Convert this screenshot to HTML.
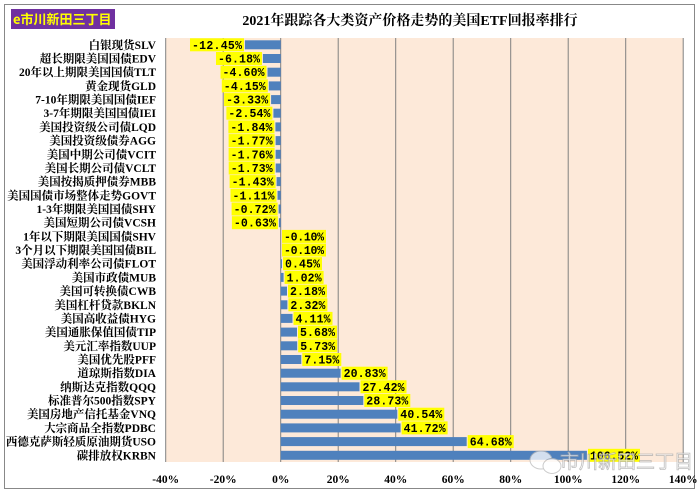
<!DOCTYPE html>
<html><head><meta charset="utf-8"><style>
html,body{margin:0;padding:0;background:#fff}
svg{display:block}
.c{font-family:"Liberation Serif","Noto Serif CJK SC",serif;font-size:11.5px;font-weight:bold;fill:#000}
.v{font-family:"Liberation Mono","Noto Sans CJK SC",monospace;font-size:11.5px;font-weight:bold;fill:#000}
.b{fill:#4f81bd}
.y{fill:#ffff00}
</style></head><body>
<svg width="699" height="493" viewBox="0 0 699 493" xmlns="http://www.w3.org/2000/svg">
<rect x="4.5" y="4.5" width="690" height="484" fill="#fff" stroke="#888" stroke-width="1"/>
<rect x="11" y="9" width="104" height="20" fill="#7030a0"/>
<text x="13" y="24" style="font-family:'Noto Sans CJK SC',sans-serif;font-size:13px;font-weight:bold;fill:#ffff00">e市川新田三丁目</text>
<text x="410" y="25" text-anchor="middle" style="font-family:'Liberation Serif','Noto Serif CJK SC',serif;font-size:14px;font-weight:bold;fill:#000">2021年跟踪各大类资产价格走势的美国ETF回报率排行</text>
<rect x="165.7" y="38" width="517.5" height="424" fill="#fde9d9"/>
<g stroke="#808080" stroke-width="1">
<line x1="165.7" y1="38" x2="165.7" y2="462"/><line x1="223.2" y1="38" x2="223.2" y2="462"/><line x1="280.7" y1="38" x2="280.7" y2="462"/><line x1="338.2" y1="38" x2="338.2" y2="462"/><line x1="395.7" y1="38" x2="395.7" y2="462"/><line x1="453.2" y1="38" x2="453.2" y2="462"/><line x1="510.7" y1="38" x2="510.7" y2="462"/><line x1="568.2" y1="38" x2="568.2" y2="462"/><line x1="625.7" y1="38" x2="625.7" y2="462"/><line x1="683.2" y1="38" x2="683.2" y2="462"/>
</g>
<g class="c" text-anchor="middle" style="font-size:11.5px">
<text x="165.7" y="483">-40%</text><text x="223.2" y="483">-20%</text><text x="280.7" y="483">0%</text><text x="338.2" y="483">20%</text><text x="395.7" y="483">40%</text><text x="453.2" y="483">60%</text><text x="510.7" y="483">80%</text><text x="568.2" y="483">100%</text><text x="625.7" y="483">120%</text><text x="683.2" y="483">140%</text>
</g>

<g transform="translate(0,44.8)"><text class="c" x="156" y="4" text-anchor="end">白银现货SLV</text><rect class="b" x="244.9" y="-4.5" width="35.8" height="9"/><rect class="y" x="190" y="-6.5" width="54" height="13"/><text class="v" x="192" y="4" textLength="50">-12.45%</text></g>
<g transform="translate(0,58.5)"><text class="c" x="156" y="4" text-anchor="end">超长期限美国国债EDV</text><rect class="b" x="262.9" y="-4.5" width="17.8" height="9"/><rect class="y" x="216" y="-6.5" width="46" height="13"/><text class="v" x="218" y="4" textLength="42">-6.18%</text></g>
<g transform="translate(0,72.2)"><text class="c" x="156" y="4" text-anchor="end">20年以上期限美国国债TLT</text><rect class="b" x="267.5" y="-4.5" width="13.2" height="9"/><rect class="y" x="220.5" y="-6.5" width="46" height="13"/><text class="v" x="222.5" y="4" textLength="42">-4.60%</text></g>
<g transform="translate(0,85.9)"><text class="c" x="156" y="4" text-anchor="end">黄金现货GLD</text><rect class="b" x="268.8" y="-4.5" width="11.9" height="9"/><rect class="y" x="221.8" y="-6.5" width="46" height="13"/><text class="v" x="223.8" y="4" textLength="42">-4.15%</text></g>
<g transform="translate(0,99.6)"><text class="c" x="156" y="4" text-anchor="end">7-10年期限美国国债IEF</text><rect class="b" x="271.1" y="-4.5" width="9.6" height="9"/><rect class="y" x="224.1" y="-6.5" width="46" height="13"/><text class="v" x="226.1" y="4" textLength="42">-3.33%</text></g>
<g transform="translate(0,113.2)"><text class="c" x="156" y="4" text-anchor="end">3-7年期限美国国债IEI</text><rect class="b" x="273.4" y="-4.5" width="7.3" height="9"/><rect class="y" x="226.4" y="-6.5" width="46" height="13"/><text class="v" x="228.4" y="4" textLength="42">-2.54%</text></g>
<g transform="translate(0,126.9)"><text class="c" x="156" y="4" text-anchor="end">美国投资级公司债LQD</text><rect class="b" x="275.4" y="-4.5" width="5.3" height="9"/><rect class="y" x="228.4" y="-6.5" width="46" height="13"/><text class="v" x="230.4" y="4" textLength="42">-1.84%</text></g>
<g transform="translate(0,140.6)"><text class="c" x="156" y="4" text-anchor="end">美国投资级债券AGG</text><rect class="b" x="275.6" y="-4.5" width="5.1" height="9"/><rect class="y" x="228.6" y="-6.5" width="46" height="13"/><text class="v" x="230.6" y="4" textLength="42">-1.77%</text></g>
<g transform="translate(0,154.3)"><text class="c" x="156" y="4" text-anchor="end">美国中期公司债VCIT</text><rect class="b" x="275.6" y="-4.5" width="5.1" height="9"/><rect class="y" x="228.6" y="-6.5" width="46" height="13"/><text class="v" x="230.6" y="4" textLength="42">-1.76%</text></g>
<g transform="translate(0,168.0)"><text class="c" x="156" y="4" text-anchor="end">美国长期公司债VCLT</text><rect class="b" x="275.7" y="-4.5" width="5" height="9"/><rect class="y" x="228.7" y="-6.5" width="46" height="13"/><text class="v" x="230.7" y="4" textLength="42">-1.73%</text></g>
<g transform="translate(0,181.6)"><text class="c" x="156" y="4" text-anchor="end">美国按揭质押债券MBB</text><rect class="b" x="276.6" y="-4.5" width="4.1" height="9"/><rect class="y" x="229.6" y="-6.5" width="46" height="13"/><text class="v" x="231.6" y="4" textLength="42">-1.43%</text></g>
<g transform="translate(0,195.3)"><text class="c" x="156" y="4" text-anchor="end">美国国债市场整体走势GOVT</text><rect class="b" x="277.5" y="-4.5" width="3.2" height="9"/><rect class="y" x="230.5" y="-6.5" width="46" height="13"/><text class="v" x="232.5" y="4" textLength="42">-1.11%</text></g>
<g transform="translate(0,209.0)"><text class="c" x="156" y="4" text-anchor="end">1-3年期限美国国债SHY</text><rect class="b" x="278.6" y="-4.5" width="2.1" height="9"/><rect class="y" x="231.6" y="-6.5" width="46" height="13"/><text class="v" x="233.6" y="4" textLength="42">-0.72%</text></g>
<g transform="translate(0,222.7)"><text class="c" x="156" y="4" text-anchor="end">美国短期公司债VCSH</text><rect class="b" x="278.9" y="-4.5" width="1.8" height="9"/><rect class="y" x="231.9" y="-6.5" width="46" height="13"/><text class="v" x="233.9" y="4" textLength="42">-0.63%</text></g>
<g transform="translate(0,236.4)"><text class="c" x="156" y="4" text-anchor="end">1年以下期限美国国债SHV</text><rect class="y" x="282" y="-6.5" width="44" height="13"/><text class="v" x="284" y="4" textLength="40">-0.10%</text></g>
<g transform="translate(0,250.0)"><text class="c" x="156" y="4" text-anchor="end">3个月以下期限美国国债BIL</text><rect class="y" x="282" y="-6.5" width="44" height="13"/><text class="v" x="284" y="4" textLength="40">-0.10%</text></g>
<g transform="translate(0,263.7)"><text class="c" x="156" y="4" text-anchor="end">美国浮动利率公司债FLOT</text><rect class="b" x="280.7" y="-4.5" width="1.3" height="9"/><rect class="y" x="283" y="-6.5" width="39" height="13"/><text class="v" x="285" y="4" textLength="35">0.45%</text></g>
<g transform="translate(0,277.4)"><text class="c" x="156" y="4" text-anchor="end">美国市政债MUB</text><rect class="b" x="280.7" y="-4.5" width="2.9" height="9"/><rect class="y" x="284.6" y="-6.5" width="39" height="13"/><text class="v" x="286.6" y="4" textLength="35">1.02%</text></g>
<g transform="translate(0,291.1)"><text class="c" x="156" y="4" text-anchor="end">美国可转换债CWB</text><rect class="b" x="280.7" y="-4.5" width="6.3" height="9"/><rect class="y" x="288" y="-6.5" width="39" height="13"/><text class="v" x="290" y="4" textLength="35">2.18%</text></g>
<g transform="translate(0,304.8)"><text class="c" x="156" y="4" text-anchor="end">美国杠杆贷款BKLN</text><rect class="b" x="280.7" y="-4.5" width="6.7" height="9"/><rect class="y" x="288.4" y="-6.5" width="39" height="13"/><text class="v" x="290.4" y="4" textLength="35">2.32%</text></g>
<g transform="translate(0,318.4)"><text class="c" x="156" y="4" text-anchor="end">美国高收益债HYG</text><rect class="b" x="280.7" y="-4.5" width="11.8" height="9"/><rect class="y" x="293.5" y="-6.5" width="39" height="13"/><text class="v" x="295.5" y="4" textLength="35">4.11%</text></g>
<g transform="translate(0,332.1)"><text class="c" x="156" y="4" text-anchor="end">美国通胀保值国债TIP</text><rect class="b" x="280.7" y="-4.5" width="16.3" height="9"/><rect class="y" x="298" y="-6.5" width="39" height="13"/><text class="v" x="300" y="4" textLength="35">5.68%</text></g>
<g transform="translate(0,345.8)"><text class="c" x="156" y="4" text-anchor="end">美元汇率指数UUP</text><rect class="b" x="280.7" y="-4.5" width="16.5" height="9"/><rect class="y" x="298.2" y="-6.5" width="39" height="13"/><text class="v" x="300.2" y="4" textLength="35">5.73%</text></g>
<g transform="translate(0,359.5)"><text class="c" x="156" y="4" text-anchor="end">美国优先股PFF</text><rect class="b" x="280.7" y="-4.5" width="20.6" height="9"/><rect class="y" x="302.3" y="-6.5" width="39" height="13"/><text class="v" x="304.3" y="4" textLength="35">7.15%</text></g>
<g transform="translate(0,373.2)"><text class="c" x="156" y="4" text-anchor="end">道琼斯指数DIA</text><rect class="b" x="280.7" y="-4.5" width="59.9" height="9"/><rect class="y" x="341.6" y="-6.5" width="46" height="13"/><text class="v" x="343.6" y="4" textLength="42">20.83%</text></g>
<g transform="translate(0,386.8)"><text class="c" x="156" y="4" text-anchor="end">纳斯达克指数QQQ</text><rect class="b" x="280.7" y="-4.5" width="78.8" height="9"/><rect class="y" x="360.5" y="-6.5" width="46" height="13"/><text class="v" x="362.5" y="4" textLength="42">27.42%</text></g>
<g transform="translate(0,400.5)"><text class="c" x="156" y="4" text-anchor="end">标准普尔500指数SPY</text><rect class="b" x="280.7" y="-4.5" width="82.6" height="9"/><rect class="y" x="364.3" y="-6.5" width="46" height="13"/><text class="v" x="366.3" y="4" textLength="42">28.73%</text></g>
<g transform="translate(0,414.2)"><text class="c" x="156" y="4" text-anchor="end">美国房地产信托基金VNQ</text><rect class="b" x="280.7" y="-4.5" width="116.6" height="9"/><rect class="y" x="398.3" y="-6.5" width="46" height="13"/><text class="v" x="400.3" y="4" textLength="42">40.54%</text></g>
<g transform="translate(0,427.9)"><text class="c" x="156" y="4" text-anchor="end">大宗商品全指数PDBC</text><rect class="b" x="280.7" y="-4.5" width="119.9" height="9"/><rect class="y" x="401.6" y="-6.5" width="46" height="13"/><text class="v" x="403.6" y="4" textLength="42">41.72%</text></g>
<g transform="translate(0,441.6)"><text class="c" x="156" y="4" text-anchor="end">西德克萨斯轻质原油期货USO</text><rect class="b" x="280.7" y="-4.5" width="186" height="9"/><rect class="y" x="467.7" y="-6.5" width="46" height="13"/><text class="v" x="469.7" y="4" textLength="42">64.68%</text></g>
<g transform="translate(0,455.3)"><text class="c" x="156" y="4" text-anchor="end">碳排放权KRBN</text><rect class="b" x="280.7" y="-4.5" width="306.2" height="9"/><rect class="y" x="588" y="-6.5" width="52" height="13"/><text class="v" x="590" y="4" textLength="48">106.52%</text></g>

<g opacity="0.75">
<ellipse cx="541" cy="460" rx="11" ry="9" fill="#fff" stroke="#bbb"/>
<ellipse cx="552" cy="466" rx="9" ry="7.5" fill="#fff" stroke="#bbb"/>
<text x="560" y="468" style="font-family:'Noto Sans CJK SC',sans-serif;font-size:19px;fill:#fff;stroke:#aaa;stroke-width:0.8">市川新田三丁目</text>
</g>
</svg>
</body></html>
